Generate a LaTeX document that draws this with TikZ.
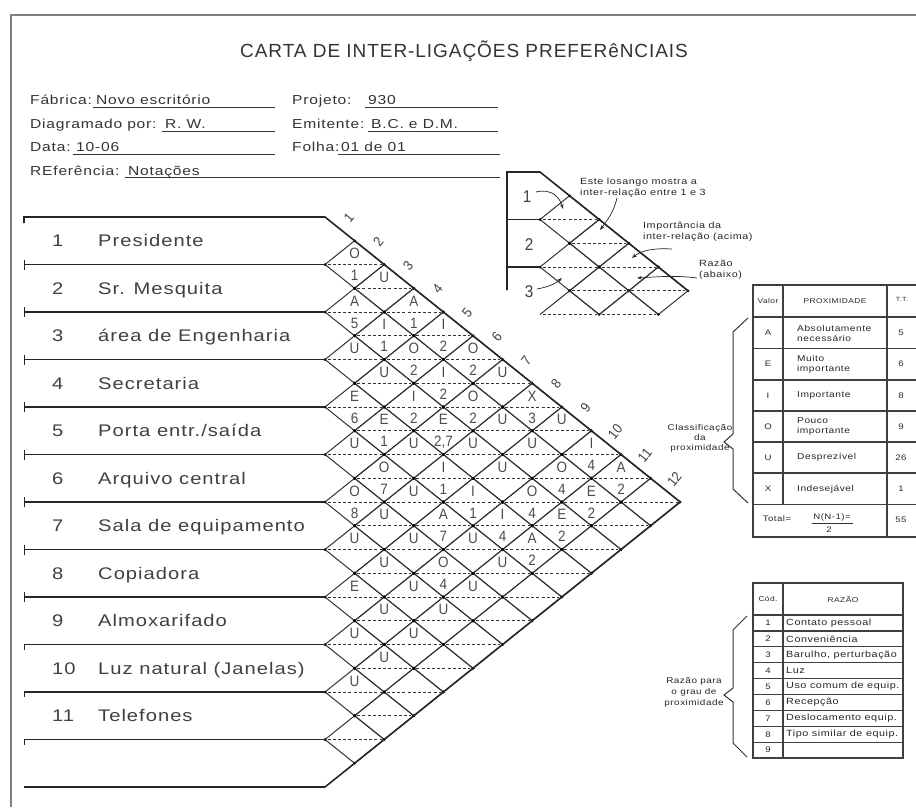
\documentclass[tikz,border=0pt]{standalone}
\usepackage{fontspec}
\setmainfont{Liberation Sans}[FakeStretch=1.2,LetterSpace=6]
\newfontfamily\titlefont{Liberation Sans}[LetterSpace=5]
\newfontfamily\cellfont{Liberation Sans}[FakeStretch=0.9]
\usetikzlibrary{arrows.meta}
\begin{document}
\begin{tikzpicture}[x=1pt,y=-1pt,
  ln/.style={draw=black!80,line width=1pt},
  dsh/.style={draw=black!80,line width=1pt,dash pattern=on 3pt off 2.2pt},
  rowln/.style={draw=black!85,line width=1.6pt},
  framel/.style={draw=black!50,line width=1.6pt},
  tabl/.style={draw=black!75,line width=1.6pt},
  vdot/.style={fill=black,draw=none},
  cell/.style={font=\cellfont\fontsize{15}{15}\selectfont,text=black!70,inner sep=0pt},
  collab/.style={font=\cellfont\fontsize{14}{14}\selectfont,text=black!75,inner sep=0pt,rotate=51},
  rowlab/.style={font=\fontsize{16.8}{17}\selectfont,text=black!75,inner sep=0pt,anchor=base west},
  hdr/.style={font=\fontsize{13}{13}\selectfont,text=black!80,inner sep=0pt,anchor=base west},
  note/.style={font=\fontsize{9}{11}\selectfont,text=black!85,inner sep=0pt,align=left,anchor=west},
  tsm/.style={font=\fontsize{8.5}{10}\selectfont,text=black!85,inner sep=0pt,align=left},
  tcen/.style={font=\fontsize{8}{10}\selectfont,text=black!85,inner sep=0pt,align=center},
  minilab/.style={font=\cellfont\fontsize{17}{17}\selectfont,text=black!75,inner sep=0pt},
  arr/.style={draw=black!85,line width=0.7pt,-{Stealth[length=5pt,width=3.5pt]}},
]
\useasboundingbox (0,0) rectangle (916,807);

% frame
\draw[framel] (916,15) -- (11,15) -- (11,807);

% title
\node[font=\titlefont\fontsize{19}{19}\selectfont,text=black!80,inner sep=0pt,anchor=base west] (title) at (240,57) {CARTA DE INTER-LIGAÇÕES PREFERêNCIAIS};

% header fields
\node[hdr] (f1) at (30,104) {Fábrica:};
\node[hdr] (v1) at (96,104) {Novo escritório};
\draw[ln] (93,107) -- (275,107);
\node[hdr] (f2) at (292,104) {Projeto:};
\node[hdr] (v2) at (368,104) {930};
\draw[ln] (365,107) -- (498,107);
\node[hdr] (f3) at (30,128) {Diagramado por:};
\node[hdr] (v3) at (165,128) {R. W.};
\draw[ln] (162,131) -- (275,131);
\node[hdr] (f4) at (292,128) {Emitente:};
\node[hdr] (v4) at (371,128) {B.C. e D.M.};
\draw[ln] (368,131) -- (498,131);
\node[hdr] (f5) at (30,151) {Data:};
\node[hdr] (v5) at (76,151) {10-06};
\draw[ln] (73,154) -- (275,154);
\node[hdr] (f6) at (292,151) {Folha:};
\node[hdr] (v6) at (341,151) {01 de 01};
\draw[ln] (338,154) -- (500,154);
\node[hdr] (f7) at (30,175) {REferência:};
\node[hdr] (v7) at (128,175) {Notações};
\draw[ln] (125,177) -- (500,177);

% lattice
\foreach \i in {1,...,11}{
  \pgfmathtruncatemacro\js{\i+1}
  \foreach \j in {\js,...,12}{
    \pgfmathsetmacro\cx{325+(\j-\i)*29.6}
    \pgfmathsetmacro\cy{217+(\i+\j-1)*23.75}
    \coordinate (d-\i-\j) at (\cx,\cy);
    \draw[ln] (\cx-29.6,\cy) -- (\cx,\cy-23.75) -- (\cx+29.6,\cy) -- (\cx,\cy+23.75) -- cycle;
    \draw[dsh] (\cx-27,\cy) -- (\cx+27,\cy);
    \fill[vdot] (\cx-29.6,\cy) circle (1.5pt) (\cx+29.6,\cy) circle (1.5pt)
                (\cx,\cy-23.75) circle (1.5pt) (\cx,\cy+23.75) circle (1.5pt);
  }
}

% outline and row lines
\draw[rowln] (24,223) -- (24,217) -- (325,217) -- (680.2,502) -- (325,787) -- (24,787);
\foreach \k in {1,...,11}{
  \draw[rowln] (24,217+47.5*\k) -- (325,217+47.5*\k);
}
\foreach \k in {1,...,8}{
  \draw[rowln,line width=1pt] (24,212+47.5*\k) -- (24,222+47.5*\k);
}
\foreach \k in {9,10,11}{
  \draw[rowln,line width=1pt] (24,217+47.5*\k) -- (24,222+47.5*\k);
}

% row labels
\foreach \k in {1,...,11}{
  \node[rowlab] (n-\k) at (52,217+47.5*\k-47.5/2+6) {\k};
}
\node[rowlab] (r1) at (98,246.75) {Presidente};
\node[rowlab] (r2) at (98,294.25) {Sr. Mesquita};
\node[rowlab] (r3) at (98,341.75) {área de Engenharia};
\node[rowlab] (r4) at (98,389.25) {Secretaria};
\node[rowlab] (r5) at (98,436.75) {Porta entr./saída};
\node[rowlab] (r6) at (98,484.25) {Arquivo central};
\node[rowlab] (r7) at (98,531.75) {Sala de equipamento};
\node[rowlab] (r8) at (98,579.25) {Copiadora};
\node[rowlab] (r9) at (98,626.75) {Almoxarifado};
\node[rowlab] (r10) at (98,674.25) {Luz natural (Janelas)};
\node[rowlab] (r11) at (98,721.75) {Telefones};

% column numbers
\foreach \k in {1,...,12}{
  \pgfmathsetmacro\lx{325+(\k-0.5)*29.6+9}
  \pgfmathsetmacro\ly{217+(\k-0.5)*23.75-11}
  \node[collab] (col-\k) at (\lx,\ly) {\k};
}

% importance letters (upper half)
\foreach \i/\j/\a in {1/2/O,1/3/U,1/4/A,1/5/I,1/6/O,1/7/U,1/8/X,1/9/U,1/10/I,1/11/A,
  2/3/A,2/4/I,2/5/O,2/6/I,2/7/O,2/8/U,2/9/U,2/10/O,2/11/E,
  3/4/U,3/5/U,3/6/I,3/7/E,3/8/U,3/9/U,3/10/O,3/11/E,
  4/5/E,4/6/E,4/7/U,4/8/I,4/9/I,4/10/I,4/11/A,
  5/6/U,5/7/O,5/8/U,5/9/A,5/10/U,5/11/U,
  6/7/O,6/8/U,6/9/U,6/10/O,6/11/U,
  7/8/U,7/9/U,7/10/U,7/11/U,
  8/9/E,8/10/U,8/11/U,
  9/10/U,9/11/U,
  10/11/U}{
  \pgfmathsetmacro\cx{325+(\j-\i)*29.6}
  \pgfmathsetmacro\cy{217+(\i+\j-1)*23.75}
  \node[cell] (t-\i-\j) at (\cx,\cy-11) {\a};
}
% reasons (lower half)
\foreach \i/\j/\b in {1/2/1,1/4/1,1/5/2,1/6/2,1/8/3,1/10/4,1/11/2,
  2/3/5,2/4/1,2/5/2,2/6/2,2/7/2,2/10/4,2/11/2,
  3/6/2,3/7/{2,7},3/10/4,3/11/2,
  4/5/6,4/6/1,4/8/1,4/9/1,4/10/4,4/11/2,
  5/7/7,5/9/7,
  6/7/8,6/10/4}{
  \pgfmathsetmacro\cx{325+(\j-\i)*29.6}
  \pgfmathsetmacro\cy{217+(\i+\j-1)*23.75}
  \node[cell] (b-\i-\j) at (\cx,\cy+11) {\b};
}

% ---------- mini example ----------
\foreach \i/\j in {1/2,1/3,1/4,1/5,2/3,2/4}{
  \pgfmathsetmacro\cx{540+(\j-\i)*29.6}
  \pgfmathsetmacro\cy{172+(\i+\j-1)*23.75}
  \coordinate (m-\i-\j) at (\cx,\cy);
  \draw[ln] (\cx-29.6,\cy) -- (\cx,\cy-23.75) -- (\cx+29.6,\cy) -- (\cx,\cy+23.75) -- cycle;
  \draw[dsh] (\cx-27,\cy) -- (\cx+27,\cy);
  \fill[vdot] (\cx-29.6,\cy) circle (1.5pt) (\cx+29.6,\cy) circle (1.5pt)
              (\cx,\cy-23.75) circle (1.5pt) (\cx,\cy+23.75) circle (1.5pt);
}
\foreach \i/\j in {2/5,3/4}{
  \pgfmathsetmacro\cx{540+(\j-\i)*29.6}
  \pgfmathsetmacro\cy{172+(\i+\j-1)*23.75}
  \coordinate (m-\i-\j) at (\cx,\cy);
  \draw[ln] (\cx-29.6,\cy) -- (\cx,\cy-23.75) -- (\cx+29.6,\cy);
  \draw[dsh] (\cx-27,\cy) -- (\cx+27,\cy);
}
\draw[rowln] (507,290) -- (507,172) -- (540,172) -- (688,290.75);
\draw[rowln] (507,219.5) -- (540,219.5);
\draw[rowln] (507,267) -- (540,267);
\node[minilab] (m1) at (527,197) {1};
\node[minilab] (m2) at (529,245) {2};
\node[minilab] (m3) at (529,292) {3};

\node[note] (n1) at (580,188) {Este losango mostra a\\inter-relação entre 1 e 3};
\node[note] (n2) at (643,231.5) {Importância da\\inter-relação (acima)};
\node[note] (n3) at (699,269.5) {Razão\\(abaixo)};

\coordinate (a1s) at (536,192);  \coordinate (a1e) at (563,209);
\coordinate (a2s) at (617,198);  \coordinate (a2e) at (600,230);
\coordinate (a3s) at (672,249);  \coordinate (a3e) at (632,258);
\coordinate (a4s) at (697,278);  \coordinate (a4e) at (637,278);
\coordinate (a5s) at (537,289);  \coordinate (a5e) at (562,278);
\draw[arr] (a1s) .. controls (552,188) and (560,198) .. (a1e);
\draw[arr] (a2s) .. controls (614,212) and (606,222) .. (a2e);
\draw[arr] (a3s) .. controls (655,248) and (642,250) .. (a3e);
\draw[arr] (a4s) .. controls (675,275) and (655,277) .. (a4e);
\draw[arr] (a5s) .. controls (548,287) and (555,284) .. (a5e);

% ---------- table 1 ----------
\draw[tabl] (920,285) -- (753,285) -- (753,537) -- (920,537);
\foreach \yy in {317,348.5,380,411,442,473,504.5}{
  \draw[tabl] (753,\yy) -- (920,\yy);
}
\draw[tabl] (783,285) -- (783,504.5);
\draw[tabl] (887,285) -- (887,537);
\node[tcen,font=\fontsize{7}{8}\selectfont] (h1a) at (768,301) {Valor};
\node[tcen,font=\fontsize{7}{8}\selectfont] (h1b) at (835,301) {PROXIMIDADE};
\node[tcen,font=\fontsize{6}{7}\selectfont] (h1c) at (902,299) {T.T.};
\foreach \v/\yy/\txt/\nn in {A/333/{Absolutamente\\necessário}/5,
  E/364/{Muito\\importante}/6,
  I/395.5/{Importante}/8,
  O/426.5/{Pouco\\importante}/9,
  U/457.5/{Desprezível}/26,
  X/489/{Indesejável}/1}{
  \node[tcen] (pv-\v) at (768,\yy) {\v};
  \node[tsm,anchor=west] (pt-\v) at (797,\yy) {\txt};
  \node[tcen] (pn-\v) at (901,\yy) {\nn};
}
\node[tcen] (tot) at (777,519) {Total=};
\node[tcen] (totn) at (832,517) {N(N-1)=};
\draw[ln,line width=0.8pt] (812,523.5) -- (853,523.5);
\node[tcen] (totd) at (829,530) {2};
\node[tcen] (tot55) at (901,520) {55};

% brace 1
\draw[ln] (748,318) -- (733,332) -- (733,434) -- (724,442) -- (733,449) -- (733,489) -- (748,503);
\node[tcen,font=\fontsize{8.3}{10}\selectfont] (cls) at (700,438) {Classificação\\da\\proximidade};

% ---------- table 2 ----------
\draw[tabl] (753,583) rectangle (903,758.1);
\draw[tabl] (753,615) -- (903,615);
\foreach \k in {1,...,8}{
  \draw[tabl,line width=1.3pt] (753,615+15.9*\k) -- (903,615+15.9*\k);
}
\draw[tabl] (783,583) -- (783,758.1);
\node[tcen,font=\fontsize{7}{8}\selectfont] (h2a) at (768,599) {Cód.};
\node[tcen,font=\fontsize{7}{8}\selectfont] (h2b) at (843,599) {RAZÃO};
\foreach \k/\txt in {1/Contato pessoal,2/Conveniência,3/{Barulho, perturbação},4/Luz,
  5/Uso comum de equip.,6/Recepção,7/Deslocamento equip.,8/Tipo similar de equip.,9/{}}{
  \node[tcen] (rc-\k) at (768,615+15.9*\k-7.95) {\k};
  \node[tsm,font=\fontsize{9}{10}\selectfont,anchor=west] (rt-\k) at (786,615+15.9*\k-7.95) {\txt};
}

% brace 2
\draw[ln] (747,616) -- (733,630) -- (733,688) -- (724,695) -- (733,702) -- (733,743) -- (747,757);
\node[tcen,font=\fontsize{8.3}{11}\selectfont] (rz) at (694,692) {Razão para\\o grau de\\proximidade};

\end{tikzpicture}
\end{document}
